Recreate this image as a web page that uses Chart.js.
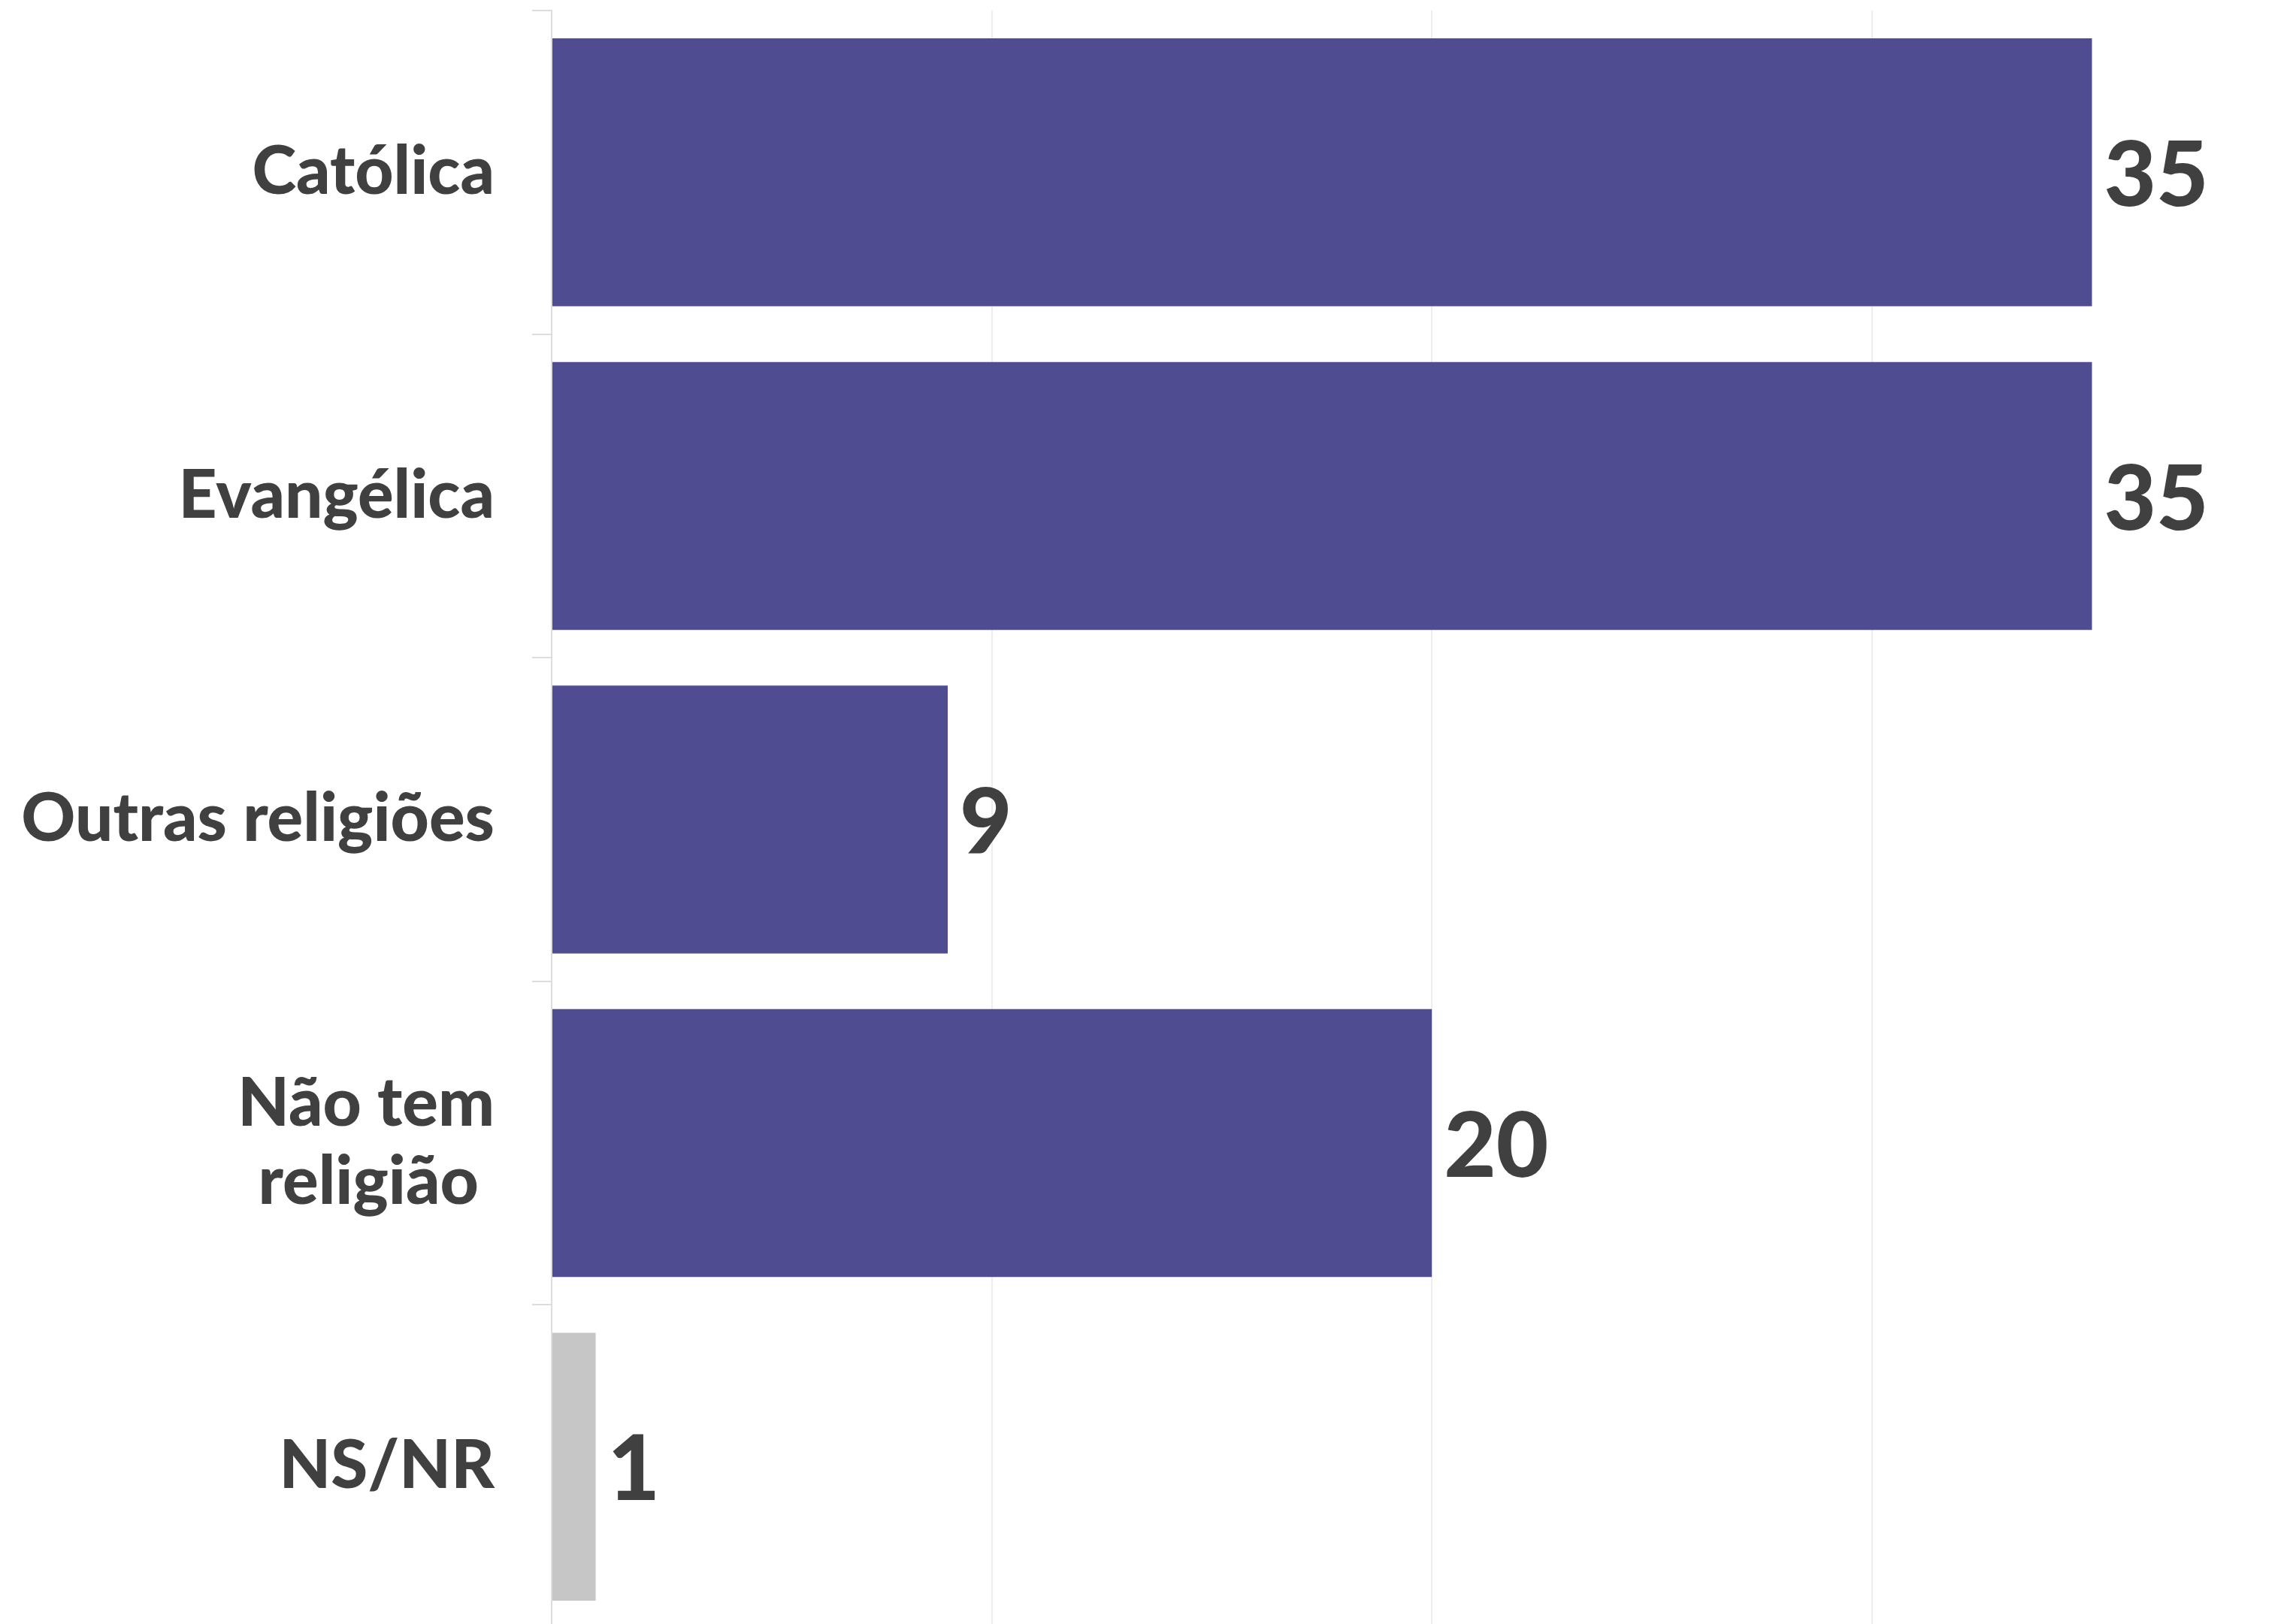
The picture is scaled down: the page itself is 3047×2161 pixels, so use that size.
<!DOCTYPE html>
<html>
<head>
<meta charset="utf-8">
<script src="https://cdn.jsdelivr.net/npm/chart.js@4"></script>
<style>
  html, body { margin: 0; padding: 0; background: #ffffff; overflow: hidden; }
  canvas { display: block; }
</style>
</head>
<body>
<canvas id="grafico" width="3047" height="2167"></canvas>
<script>
  // categorias e valores (%)
  const categorias = ['Católica', 'Evangélica', 'Outras religiões', ['Não tem', 'religião '], 'NS/NR'];
  const valores = [35, 35, 9, 20, 1];
  const cores = ['#4f4c91', '#4f4c91', '#4f4c91', '#4f4c91', '#c6c6c6'];
  const eixoX = { min: 0, max: 39.5, passo: 10 };

  // rótulo do valor à direita de cada barra
  const rotulosValor = {
    id: 'rotulosValor',
    afterDatasetsDraw(chart) {
      const c = chart.ctx;
      const meta = chart.getDatasetMeta(0);
      c.save();
      c.font = '900 120px Lato';
      c.fillStyle = '#404040';
      c.textAlign = 'left';
      c.textBaseline = 'middle';
      meta.data.forEach((bar, i) => {
        c.fillText(String(valores[i]), bar.x + 16, bar.y + 6);
      });
      c.restore();
    }
  };

  const ctx = document.getElementById('grafico').getContext('2d');
  new Chart(ctx, {
    type: 'bar',
    data: {
      labels: categorias,
      datasets: [{
        data: valores,
        backgroundColor: cores,
        borderWidth: 0,
        categoryPercentage: 1,
        barPercentage: 0.828
      }]
    },
    options: {
      indexAxis: 'y',
      responsive: false,
      animation: false,
      layout: { padding: { top: 14, right: 0, bottom: 0, left: 0 } },
      plugins: {
        legend: { display: false },
        tooltip: { enabled: false }
      },
      scales: {
        x: {
          position: 'top',
          min: eixoX.min,
          max: eixoX.max,
          afterFit(scale) { scale.height = 0; scale.paddingLeft = 0; scale.paddingRight = 0; },
          ticks: { display: false, stepSize: eixoX.passo },
          border: { display: false },
          grid: {
            drawTicks: false,
            lineWidth: 2,
            color: (c) => (c.tick && c.tick.value > 0 && c.tick.value % 10 === 0) ? '#eeeeee' : 'rgba(0,0,0,0)'
          }
        },
        y: {
          afterFit(scale) { scale.width = 734; scale.paddingTop = 0; scale.paddingBottom = 0; },
          ticks: {
            color: '#404040',
            padding: 50,
            font: { family: 'Lato', size: 89, weight: '900', lineHeight: 1.17 }
          },
          border: { color: '#dddddd', width: 2 },
          grid: {
            drawOnChartArea: false,
            tickLength: 26,
            color: '#dddddd',
            lineWidth: 2
          }
        }
      }
    },
    plugins: [rotulosValor]
  });
</script>
</body>
</html>
